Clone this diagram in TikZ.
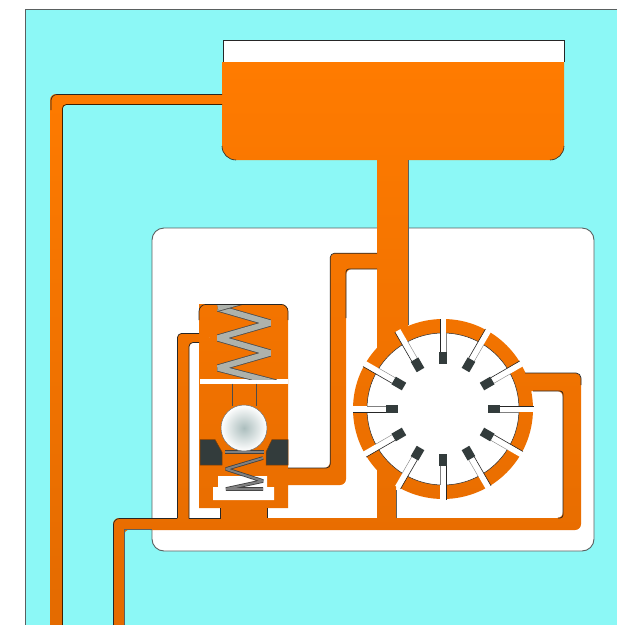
\documentclass[tikz,border=0pt]{standalone}
\usetikzlibrary{calc}
\definecolor{cyanbg}{HTML}{8CF8F6}
\definecolor{orangetop}{HTML}{FF7B00}
\definecolor{orangelow}{HTML}{E36A00}
\definecolor{darkblock}{HTML}{333C3C}
\definecolor{springgray}{HTML}{AEB2AB}
\definecolor{edgegray}{HTML}{5A6060}
\tikzset{
  edgeline/.style={draw=black!85,line width=0.7pt},
  softedge/.style={draw=edgegray,line width=0.9pt},
  oilfill/.style={top color=orangetop,bottom color=orangelow,shading angle=0},
  slit/.style={fill=white},
  vaneblock/.style={fill=darkblock},
  bigspring/.style={line join=bevel,line width=7.2pt,draw=black!70},
  bigspringcore/.style={line join=bevel,line width=5.6pt,draw=springgray},
  smallspring/.style={line join=bevel,line width=3.6pt,draw=black!75},
  smallspringcore/.style={line join=bevel,line width=2pt,draw=black!50},
}
\begin{document}
\begin{tikzpicture}[x=1pt,y=-1pt]
\useasboundingbox (0,0) rectangle (617,625);
\clip (0,0) rectangle (617,625);
\fill[white] (0,0) rectangle (617,625);
% background panel
\fill[cyanbg] (25,9) rectangle (620,630);
\draw[softedge] (25,630) -- (25,9) -- (620,9);
% white housing
\draw[fill=white,softedge,rounded corners=12pt] (152,228) rectangle (594,551);
% all oil passages, every piece clockwise so that the shading stays continuous
\path[oilfill]
  (222,62) -- (564,62) -- (564,146) arc[start angle=0,end angle=90,radius=14] -- (236,160) arc[start angle=90,end angle=180,radius=14] -- cycle
  [rounded corners=6pt] (50,640) -- (50,94) -- (240,94) -- (240,104.5) -- (62,104.5) -- (62,640) -- cycle
  (113,640) -- (113,518) -- (210,518) -- (210,529.5) -- (124,529.5) -- (124,640) -- cycle
  (177,526) -- (177,333) -- (210,333) -- (210,342) -- (189,342) -- (189,526) -- cycle
  (270,468) -- (330,468) -- (330,253) -- (390,253) -- (390,269) -- (346,269) -- (346,485) -- (270,485) -- cycle
  (500,373) -- (581,373) -- (581,530) -- (500,530) -- (500,518) -- (563,518) -- (563,391) -- (500,391) -- cycle
  [sharp corners]
  (377,150) -- (408,150) -- (408,340) -- (396,340) -- (396,525) -- (377,525) -- cycle
  (150,518) -- (540,518) -- (540,530) -- (150,530) -- cycle
  (220,500) -- (267,500) -- (267,525) -- (220,525) -- cycle
  [rounded corners=7pt] (199,304) -- (288,304) [sharp corners] -- (288,508) -- (199,508) -- cycle
  (443,409) circle[radius=90];
% tank headspace
\fill[white] (223,40) rectangle (564,62);
\draw[edgeline] (223,62) -- (223,40) -- (564,40) -- (564,62);
\draw[edgeline,line width=0.6pt] (564,146) arc[start angle=0,end angle=90,radius=14];
\draw[edgeline,line width=0.6pt] (222,146) arc[start angle=180,end angle=90,radius=14];
% pipe edges
\draw[edgeline,rounded corners=6pt] (51,110) -- (51,94.5) -- (222,94.5);
\draw[edgeline,draw=black!75!orange,rounded corners=4pt] (62.4,640) -- (62.4,104.5) -- (222,104.5);
\draw[softedge] (408.3,160) -- (408.3,325);
\draw[softedge] (396.3,490) -- (396.3,518);
\draw[softedge] (124.3,640) -- (124.3,529.5) -- (152,529.5);
\draw[edgeline,rounded corners=6pt] (113.5,640) -- (113.5,518.5) -- (177,518.5);
\draw[edgeline,rounded corners=4pt] (177.5,518) -- (177.5,333.5) -- (199,333.5);
\draw[edgeline,rounded corners=4pt] (189,518.5) -- (189,342.5) -- (199,342.5);
\draw[edgeline] (189,518.3) -- (220,518.3) -- (220,508);
\draw[edgeline] (267,508) -- (267,518);
\draw[edgeline,rounded corners=4pt] (288,468) -- (330.3,468) -- (330.3,253.3) -- (377,253.3);
\draw[edgeline,rounded corners=3pt] (346,318) -- (346,269) -- (377,269);
\draw[edgeline,rounded corners=5pt] (525,373) -- (581,373) -- (581,385);
\draw[edgeline,rounded corners=3pt] (533,391) -- (563,391) -- (563,518) -- (558,518);
\draw[edgeline,rounded corners=7pt] (199,320) -- (199,304.4) -- (288,304.4) -- (288,320);
% rotor
\draw[fill=white,edgeline,line width=0.5pt] (443,409) circle[radius=76];
\foreach \a in {0,30,...,330}{
  \begin{scope}[shift={(443,409)},rotate=\a]
    \fill[slit] (57,-3) rectangle (90.5,3);
    \draw[black!85,line width=0.6pt] (57,-3.2) -- (90.5,-3.2);
    \draw[black!50,line width=0.4pt] (57,3.2) -- (76,3.2);
    \fill[vaneblock] (45,-4.4) rectangle (57,4.4);
  \end{scope}
}
% valve interior
\fill[white] (200,379) rectangle (288,383.5);
\draw[black!70,line width=0.5pt] (232,383.5) -- (232,406);
\draw[black!70,line width=0.5pt] (256,383.5) -- (256,406);
\begin{scope}
  \clip (199,305) rectangle (288,379);
  \draw[bigspring] (218,308) -- (270,323) -- (218,338) -- (270,353) -- (218,368) -- (276,383);
  \draw[bigspringcore] (218,308) -- (270,323) -- (218,338) -- (270,353) -- (218,368) -- (276,383);
  \draw[bigspring] (218,308) -- (250,299);
  \draw[bigspringcore] (218,308) -- (250,299);
\end{scope}
\draw[fill=darkblock,draw=orangelow!60!black,line width=0.5pt] (200,439.5) -- (215,439.5) -- (222,452) -- (222,465) -- (200,465) -- cycle;
\draw[fill=darkblock,draw=orangelow!60!black,line width=0.5pt] (288,439.5) -- (272,439.5) -- (266,452) -- (266,465) -- (288,465) -- cycle;
\fill[white] (218,476) -- (267,476) -- (267,487) -- (274,487) -- (274,500) -- (213,500) -- (213,487) -- (218,487) -- cycle;
\draw[smallspring] (225,452) -- (264,452);
\draw[smallspringcore] (225,452) -- (264,452);
\draw[smallspring] (263,458) -- (226,469) -- (263,481) -- (226,489) -- (263,489);
\draw[smallspringcore] (263,458) -- (226,469) -- (263,481) -- (226,489) -- (263,489);
\shade[inner color=black!30!cyanbg!40!gray!60,outer color=white] (244,428) circle[radius=23];
\draw[black!55,line width=0.5pt] (244,428) circle[radius=23];
\end{tikzpicture}
\end{document}
